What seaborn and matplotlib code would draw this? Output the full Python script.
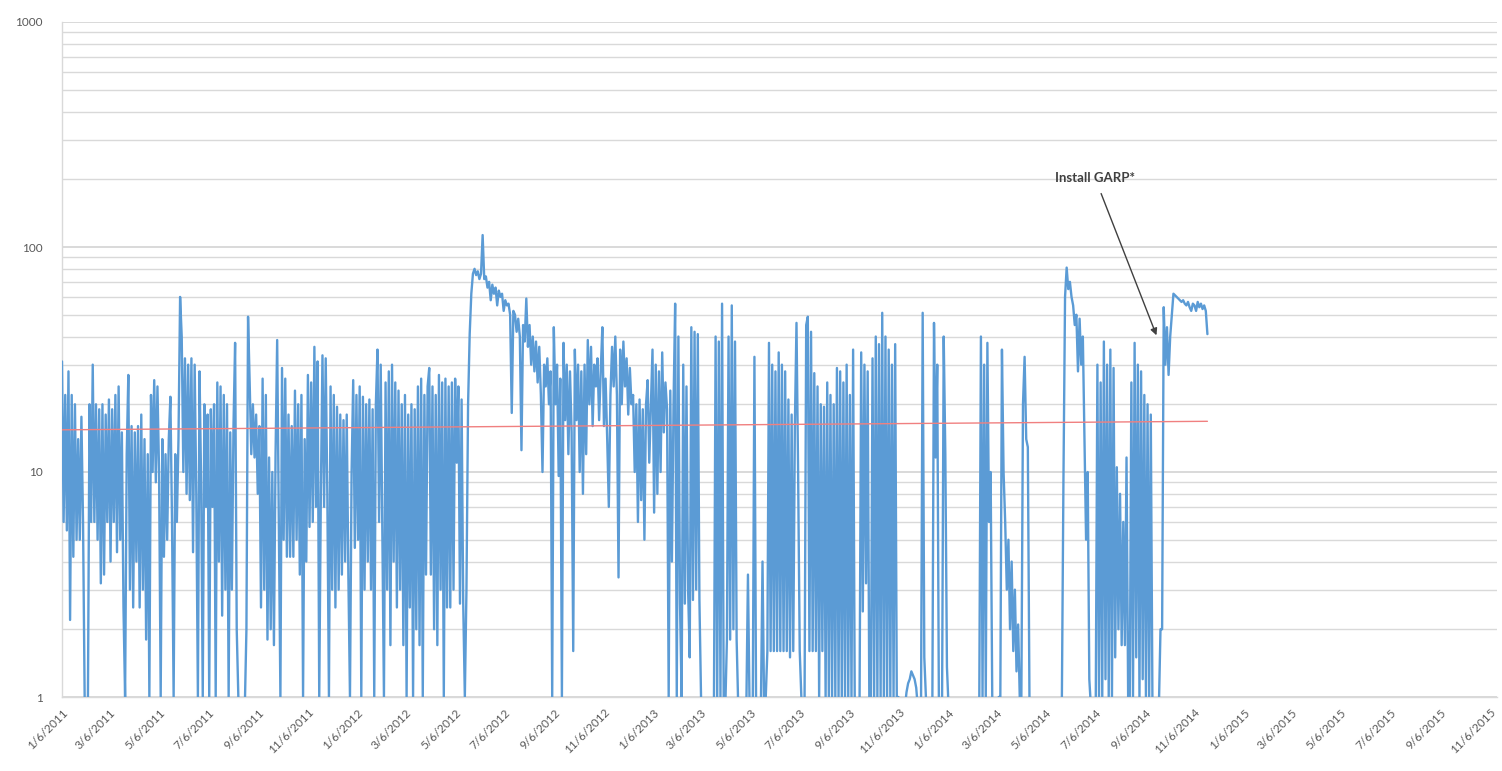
import numpy as np
import pandas as pd
import matplotlib
matplotlib.use("Agg")
import matplotlib.pyplot as plt
import matplotlib.dates as mdates
from matplotlib.ticker import LogLocator, FixedLocator, NullFormatter, FuncFormatter
import seaborn as sns

# Readings taken every two days, starting 6 Jan 2011 (values below 1 sit off the log axis)
start_date = "2011-01-06"
step_days = 2
readings = [
    31, 6, 22, 5.5, 28, 2.2, 22, 4.2, 20, 5, 14, 5, 17.6, 6, 1, 0.9, 0.9, 20, 6, 30,
    6, 20, 5, 19, 3.2, 20, 3.5, 18, 6, 21, 4, 19, 6, 22, 4.4, 24, 5, 15, 2.5, 1,
    12, 27, 3, 16, 2.5, 15, 4, 16, 2.5, 18, 3, 14, 1.8, 12, 1, 22, 10, 25.6, 9, 24,
    10, 1, 14, 4.2, 12, 5, 14, 21.6, 6, 1, 12, 6, 14, 60, 40, 10, 32, 8, 30, 7.5,
    32, 4.4, 30, 8, 1, 28, 9, 1, 20, 7, 18, 1, 19, 7, 20, 1, 25, 4, 24, 2.3,
    22, 3, 20, 1, 15, 3, 16, 37.5, 2, 1, 0.9, 0.9, 0.9, 0.9, 2, 49, 25, 12, 20, 11.6,
    18, 8, 16, 2.5, 26, 3, 22, 1.8, 11.6, 2, 10, 1.7, 12, 38.6, 6, 1, 29, 5, 26, 4.2,
    18, 4.2, 16, 4.2, 23, 5, 20, 3.5, 22, 1, 14, 4, 27, 5.7, 25, 6, 36, 7, 31, 1,
    8, 33, 7, 32, 8, 1, 24, 3, 22, 2.5, 19.5, 3, 18, 3.5, 17, 4, 18, 3.5, 1, 10,
    25.6, 4.6, 22, 5, 24, 1, 21.6, 3, 20, 4, 21, 3, 19, 1, 20, 35, 6, 30, 5.7, 1,
    25, 3, 28, 1.7, 30, 4, 25, 2.5, 23, 3, 20, 1.7, 22, 1, 18, 2.5, 20, 1, 19, 2,
    24, 1.7, 26, 1, 22, 3.5, 24, 29, 3.5, 24, 2, 22, 1.7, 27, 3, 25, 1, 26, 2.5, 24,
    2.5, 25, 3, 26, 11, 24, 2.6, 21, 2.6, 1, 3, 20, 41, 62, 76, 80, 75, 78, 72, 76,
    113, 72, 74, 66, 70, 58, 68, 62, 66, 55, 64, 60, 62, 52, 58, 55, 56, 50, 18.3, 52,
    50, 42, 48, 40, 12.5, 45, 38, 59, 36, 45, 30, 40, 28, 38, 25, 36, 22, 10, 30, 24,
    32, 20, 28, 1, 44, 20, 30, 9.6, 26, 1, 37.5, 17, 30, 12, 28, 15, 1.6, 35, 17, 30,
    10, 28, 8, 30, 12, 38.6, 20, 36, 16, 30, 24, 32, 17, 28, 44, 16, 26, 14, 7, 22,
    36, 24, 40, 22, 3.4, 35, 20, 38, 24, 32, 18, 29, 20, 22, 10, 20, 6, 21, 7.5, 19,
    5, 20, 25.6, 11, 20, 35, 6.6, 30, 8, 28, 10, 34, 15, 25, 19, 1, 23, 4, 20, 56,
    1, 40, 2.6, 1, 30, 2.6, 24, 3, 1.5, 44, 2.7, 42, 3, 41, 2.7, 1, 0.9, 0.9, 0.9, 0.9,
    0.9, 0.9, 0.9, 1, 40, 1, 38, 1, 56, 1, 0.9, 1.8, 40, 1.8, 55, 2, 38, 1.8, 0.9, 0.9,
    0.9, 0.9, 0.9, 0.9, 3.5, 0.9, 0.9, 1, 32.5, 1, 0.9, 0.9, 0.9, 4, 0.9, 1, 1.6, 37.5, 1.6, 30,
    1.6, 28, 1.6, 34, 1.6, 30, 1.6, 28, 1.6, 21, 1.5, 18, 1.6, 16, 46, 10, 1.6, 1, 0.9, 1,
    45, 49, 1.6, 42, 1.6, 27.5, 1.6, 24, 1, 20, 1.6, 19.5, 1, 25, 1, 22, 1, 20, 1, 29,
    1, 28, 1, 25, 1, 30, 1, 22, 1, 35, 1, 0.9, 0.9, 1, 34, 2.4, 30, 3.2, 28, 1,
    1, 32, 1, 40, 1, 37, 1, 51, 1, 40, 1, 35, 1, 30, 1, 37, 1, 1, 0.9, 0.9,
    0.9, 0.9, 1.05, 1.15, 1.2, 1.3, 1.25, 1.2, 1.1, 0.9, 0.9, 1, 51, 1.5, 1, 0.9, 0.9, 0.9, 1, 46,
    11.6, 30, 1, 0.9, 1, 40, 12, 1.36, 0.9, 0.9, 0.9, 0.9, 0.9, 0.9, 0.9, 0.9, 0.9, 0.9, 0.9, 0.9,
    0.9, 0.9, 0.9, 0.9, 0.9, 0.9, 0.9, 1, 40, 1, 30, 1, 37.5, 6, 10, 1, 0.9, 0.9, 0.9, 1,
    1, 35, 10, 6, 3, 5, 2, 4, 1.6, 3, 1.3, 2.1, 1, 1, 20, 32.5, 14, 12.9, 1, 0.9,
    0.9, 0.9, 0.9, 0.9, 0.9, 0.9, 0.9, 0.9, 0.9, 0.9, 0.9, 0.9, 0.9, 0.9, 0.9, 0.9, 0.9, 0.9, 0.9, 9,
    60, 81, 65, 70, 60, 55, 45, 50, 28, 48, 30, 40, 14, 5, 10, 1.2, 0.9, 0.9, 0.9, 1,
    30, 1, 25, 1, 38, 1.2, 30, 1, 35, 1, 29, 1.5, 10.5, 2, 8, 1.7, 6, 1.7, 11.6, 1,
    1, 25, 1, 37.5, 1.5, 30, 1, 28, 1.2, 22, 1, 20, 1, 18, 1, 0.9, 0.9, 0.9, 0.9, 2,
    2, 54, 30, 44, 27, 40, 50, 62, 61, 60, 59, 58, 57, 58, 56, 55, 57, 54, 52, 56,
    55, 52, 57, 54, 56, 53, 55, 52, 41,
]

# Linear trend across the record
trend_values = [15.4, 16.8]

y_ticks = [1, 10, 100, 1000]
x_start = "2011-01-06"
x_end = "2015-11-15"

annotation_text = "Install GARP*"
annotation_target = ("2014-09-20", 40.5)
annotation_label_pos = ("2014-07-06", 203)

sns.set_style("white")
plt.rcParams["font.family"] = ["Lato", "DejaVu Sans"]

dates = pd.date_range(start_date, periods=len(readings), freq=f"{step_days}D")
df = pd.DataFrame({"date": dates, "value": readings})
trend_df = pd.DataFrame({"date": [dates[0], dates[-1]], "value": trend_values})

W, H = 1502, 771
fig = plt.figure(figsize=(W / 100, H / 100), dpi=100)
ax = fig.add_axes([62 / W, 1 - 697 / H, (1497 - 62) / W, (697 - 22) / H])
ax.set_yscale("log")

grid_color = "#d9d9d9"
ax.yaxis.set_major_locator(FixedLocator(y_ticks))
ax.yaxis.set_major_formatter(FuncFormatter(lambda v, p: f"{int(v)}"))
ax.yaxis.set_minor_locator(LogLocator(base=10, subs=np.arange(2, 10)))
ax.yaxis.set_minor_formatter(NullFormatter())
ax.grid(which="major", axis="y", color="#d0d0d0", lw=1.1, zorder=0)
ax.grid(which="minor", axis="y", color=grid_color, lw=1.0, zorder=0)
ax.grid(axis="x", visible=False)
ax.set_axisbelow(True)

sns.lineplot(data=df, x="date", y="value", ax=ax, color="#5B9BD5",
             linewidth=1.7, estimator=None, sort=False, zorder=3)
sns.lineplot(data=trend_df, x="date", y="value", ax=ax, color="#F08080",
             linewidth=1.0, estimator=None, zorder=4)

ax.set_ylim(1, 1000)
ax.set_xlim(pd.Timestamp(x_start), pd.Timestamp(x_end))
ax.set_xlabel("")
ax.set_ylabel("")

ax.xaxis.set_major_locator(mdates.MonthLocator(bymonth=[1, 3, 5, 7, 9, 11], bymonthday=6))
ax.xaxis.set_major_formatter(FuncFormatter(
    lambda v, p: (lambda d: f"{d.month}/{d.day}/{d.year}")(mdates.num2date(v))))
for lab in ax.get_xticklabels():
    lab.set_rotation(45)
    lab.set_ha("right")
    lab.set_rotation_mode("anchor")
ax.tick_params(axis="x", labelsize=8.5, colors="#595959", length=4, width=0.8,
               color=grid_color, pad=3)
ax.tick_params(axis="y", which="both", labelsize=8.5, colors="#595959", length=0, pad=14)

for s in ("top", "right"):
    ax.spines[s].set_visible(False)
for s in ("left", "bottom"):
    ax.spines[s].set_color(grid_color)
    ax.spines[s].set_linewidth(1.0)

ax.annotate(annotation_text,
            xy=(pd.Timestamp(annotation_target[0]), annotation_target[1]),
            xytext=(pd.Timestamp(annotation_label_pos[0]), annotation_label_pos[1]),
            ha="center", va="center", fontsize=9.5, fontweight="bold", color="#404040",
            arrowprops=dict(arrowstyle="-|>", color="#404040", lw=1.0,
                            shrinkA=5, shrinkB=0, mutation_scale=10),
            zorder=5)

fig.savefig("out.png", dpi=100)
